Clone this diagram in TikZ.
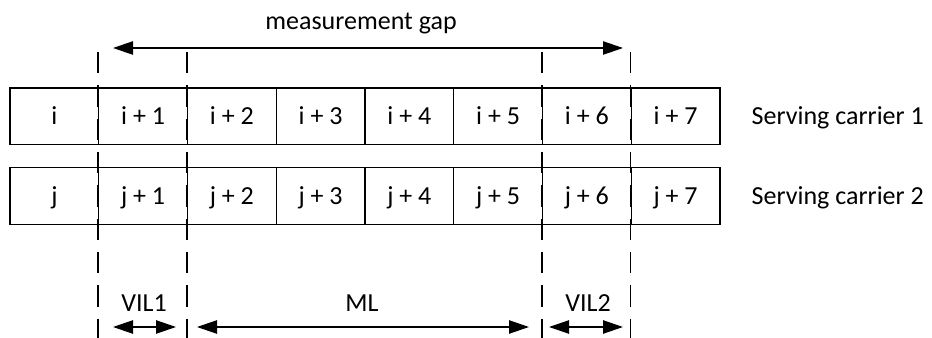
\documentclass[tikz,border=0pt]{standalone}
\usepackage{fontspec}
\setmainfont{Carlito}
\usetikzlibrary{arrows.meta}

\begin{document}
\begin{tikzpicture}[x=0.75pt,y=-0.75pt,line width=1pt,
		zelle/.style={draw,minimum width=66.56pt,minimum height=42.5pt,inner sep=0pt,text height=0.63em,text depth=0pt},
		markierung/.style={dash pattern=on 16pt off 9pt},
		beschriftung/.style={anchor=base,inner sep=0pt}]
		\fontsize{19.5}{22}\selectfont
		\useasboundingbox (0,0) rectangle (932,338);
		
		% Zellen zeichnen
		\foreach \k in {0,...,7} {
			\ifnum\k=0 \def\lab{}\else \def\lab{ + \k}\fi
			\node[zelle] (i\k) at ({10+88.75*(\k+0.5)},116.5) {i\lab};
			\node[zelle] (j\k) at ({10+88.75*(\k+0.5)},196) {j\lab};
		}
		
		% Traegerbeschriftungen eintragen
		\node[anchor=base west,inner sep=0pt] (sc1) at (751,125) {Serving carrier 1};
		\node[anchor=base west,inner sep=0pt] (sc2) at (751,205) {Serving carrier 2};
		
		% Gestrichelte Grenzen
		\coordinate (oben) at (0,52);
		\coordinate (unten) at (0,338);
		\foreach \k in {1,2,6,7} {
			\draw[markierung] (i\k.north west |- oben) -- (i\k.north west |- unten);
		}
		
		% Pfeile zeichnen
		\coordinate (mg-l) at (113,48);
		\coordinate (mg-r) at (623,48);
		\coordinate (vil1-l) at (113,327);
		\coordinate (vil1-r) at (176,327);
		\coordinate (ml-l) at (197,327);
		\coordinate (ml-r) at (529,327);
		\coordinate (vil2-l) at (549,327);
		\coordinate (vil2-r) at (623,327);
		\begin{scope}[>={Triangle[length=15pt,width=10pt]}]
			\draw[<->] (mg-l) to (mg-r);
			\draw[<->] (vil1-l) to (vil1-r);
			\draw[<->] (ml-l) to (ml-r);
			\draw[<->] (vil2-l) to (vil2-r);
		\end{scope}
		
		% Pfeilbeschriftungen
		\node[beschriftung] (mg) at (361,30) {measurement gap};
		\node[beschriftung] (vil1) at (144,312) {VIL1};
		\node[beschriftung] (ml) at (362,312) {ML};
		\node[beschriftung] (vil2) at (588,312) {VIL2};
	\end{tikzpicture}
\end{document}
